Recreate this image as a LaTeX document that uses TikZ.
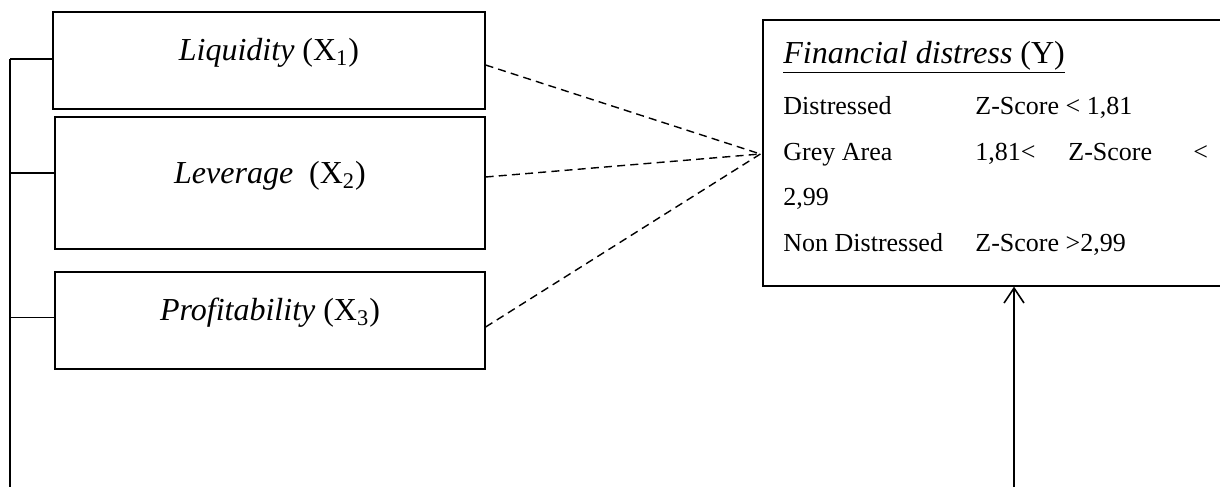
\documentclass[tikz,border=0pt]{standalone}
\usepackage{fontspec}
\setmainfont{Liberation Serif}
\usetikzlibrary{calc,arrows.meta}
\begin{document}
\begin{tikzpicture}[x=0.5pt,y=-0.5pt,
  box/.style={draw, line width=0.6pt, inner sep=0pt},
  lbl/.style={inner sep=0pt, anchor=base, font=\fontsize{16}{19}\selectfont},
  ytxt/.style={inner sep=0pt, anchor=base west, font=\fontsize{13}{15}\selectfont},
  line/.style={line width=0.6pt},
  dline/.style={line width=0.7pt, dash pattern=on 4pt off 2.6pt}]
\useasboundingbox (0,0) rectangle (1220,487);
\fill[white] (0,0) rectangle (1220,487);
% boxes
\node[box, minimum width=216pt, minimum height=48.5pt] (b1) at (269,60.5) {};
\node[box, minimum width=215pt, minimum height=66pt] (b2) at (270,183) {};
\node[box, minimum width=215pt, minimum height=48.5pt] (b3) at (270,320.5) {};
\node[box, minimum width=231pt, minimum height=133pt] (Y) at (994,153) {};
% labels
\node[lbl] (t1) at (b1.center) {\textit{Liquidity} (X\textsubscript{1})};
\node[lbl] (t2) at (b2.center) {\textit{Leverage}\ \ (X\textsubscript{2})};
\node[lbl] (t3) at (b3.center) {\textit{Profitability} (X\textsubscript{3})};
% Y box content
\node[ytxt, font=\fontsize{16}{19}\selectfont] (yt) at (783,63) {\underline{\textit{Financial distress} (Y)}};
\node[ytxt] (r1a) at (783,114) {Distressed};
\node[ytxt] (r1b) at (975,114) {Z-Score {\textless} 1,81};
\node[ytxt] (r2a) at (783,160) {Grey Area};
\node[ytxt] (r2b) at (975,160) {1,81{\textless}};
\node[ytxt] (r2c) at (1068,160) {Z-Score};
\node[ytxt] (r2d) at (1193,160) {{\textless}};
\node[ytxt] (r3a) at (783,205) {2,99};
\node[ytxt] (r4a) at (783,251) {Non Distressed};
\node[ytxt] (r4b) at (975,251) {Z-Score {\textgreater}2,99};
% left bracket
\coordinate (vtop) at (10,59);
\coordinate (vbot) at (10,487);
\coordinate (k2) at ($(b2.west)+(0,-10)$);
\coordinate (k3) at ($(b3.west)+(0,-3)$);
\draw[line] (vtop) -- (vbot);
\draw[line] (vtop) -- (vtop -| b1.west);
\draw[line] (k2) -- (k2 -| vtop);
\draw[line] (k3) -- (k3 -| vtop);
% dashed connectors
\coordinate (conv) at ($(Y.west)+(-2,1)$);
\coordinate (s1) at ($(b1.east)+(0,4.5)$);
\coordinate (s2) at ($(b2.east)+(0,-6)$);
\coordinate (s3) at ($(b3.east)+(0,6.5)$);
\draw[dline] (s1) -- (conv);
\draw[dline] (s2) -- (conv);
\draw[dline] (s3) -- (conv);
% arrow
\coordinate (abot) at (1014,487);
\draw[line width=0.8pt, -{Straight Barb[length=7.5pt,width=10pt,line width=0.8pt]}] (abot) -- (abot |- Y.south);
\end{tikzpicture}
\end{document}
